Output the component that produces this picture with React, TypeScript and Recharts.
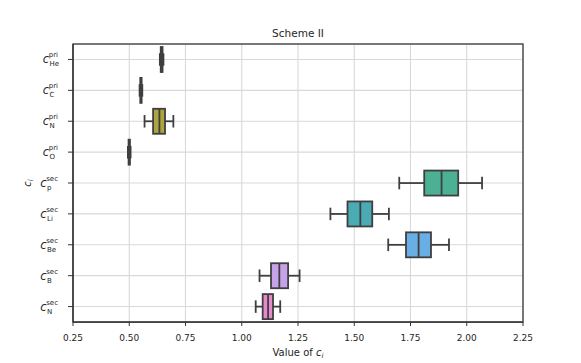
import { ComposedChart, Bar, XAxis, YAxis, CartesianGrid, Cell } from "recharts";

const ELEMENTS = ["He", "C", "N", "O", "p", "Li", "Be", "B", "N"];
const TIERS = ["pri", "pri", "pri", "pri", "sec", "sec", "sec", "sec", "sec"];

const WHISKER_LO = [0.636, 0.546, 0.568, 0.494, 1.7, 1.394, 1.651, 1.079, 1.062];
const Q1 = [0.64, 0.549, 0.606, 0.497, 1.811, 1.47, 1.73, 1.13, 1.093];
const MEDIAN = [0.644, 0.552, 0.634, 0.5, 1.888, 1.527, 1.786, 1.167, 1.117];
const Q3 = [0.648, 0.555, 0.659, 0.503, 1.962, 1.58, 1.841, 1.206, 1.139];
const WHISKER_HI = [0.652, 0.558, 0.696, 0.506, 2.068, 1.654, 1.921, 1.257, 1.171];

const X_TICKS = [0.25, 0.5, 0.75, 1.0, 1.25, 1.5, 1.75, 2.0, 2.25];

const BOX_COLORS = [
  "#e2818f",
  "#cf9350",
  "#aba43f",
  "#6aab4a",
  "#4cb194",
  "#4aabb5",
  "#6aaee6",
  "#c6a3e8",
  "#e68acd",
];

const LINE = "#3f3f3f";
const TEXT = "#262626";
const FONT = "'DejaVu Sans', sans-serif";

const data = ELEMENTS.map((el, i) => ({
  key: `${el}^${TIERS[i]}`,
  el,
  tier: TIERS[i],
  lo: WHISKER_LO[i],
  q1: Q1[i],
  med: MEDIAN[i],
  q3: Q3[i],
  hi: WHISKER_HI[i],
  range: [WHISKER_LO[i], WHISKER_HI[i]],
}));

const BoxShape = (props: any) => {
  const { x, y, width, height, payload, fill } = props;
  const span = payload.hi - payload.lo;
  // linear scale, so interpolate inside the whisker range the axis gave us
  const px = (v: number) => x + ((v - payload.lo) / span) * width;
  const cy = y + height / 2;
  const cap = height / 4;
  const sw = 1.8;
  return (
    <g>
      <line x1={px(payload.lo)} x2={px(payload.q1)} y1={cy} y2={cy} stroke={LINE} strokeWidth={sw} />
      <line x1={px(payload.q3)} x2={px(payload.hi)} y1={cy} y2={cy} stroke={LINE} strokeWidth={sw} />
      <line x1={px(payload.lo)} x2={px(payload.lo)} y1={cy - cap} y2={cy + cap} stroke={LINE} strokeWidth={sw} />
      <line x1={px(payload.hi)} x2={px(payload.hi)} y1={cy - cap} y2={cy + cap} stroke={LINE} strokeWidth={sw} />
      <rect
        x={px(payload.q1)}
        y={y}
        width={px(payload.q3) - px(payload.q1)}
        height={height}
        fill={fill}
        stroke={LINE}
        strokeWidth={sw}
      />
      <line x1={px(payload.med)} x2={px(payload.med)} y1={y} y2={y + height} stroke={LINE} strokeWidth={sw} />
    </g>
  );
};

const YTick = (props: any) => {
  const { y, payload } = props;
  const [el, tier] = String(payload.value).split("^");
  const right = 58;
  const supW = tier === "pri" ? 8.5 : 11;
  return (
    <g fontFamily={FONT}>
      <text x={right - supW - 0.5} y={y + 4} fontSize={11.5} fontStyle="italic" textAnchor="end" fill={TEXT}>
        c
      </text>
      <text x={right} y={y - 2} fontSize={7} textAnchor="end" fill={TEXT}>
        {tier}
      </text>
      <text x={right - supW} y={y + 7} fontSize={7} textAnchor="start" fill={TEXT}>
        {el}
      </text>
    </g>
  );
};

const App = () => {
  return (
    <div style={{ position: "absolute", left: 0, top: 0, width: 581, height: 363, background: "#fff" }}>
      <ComposedChart
        width={581}
        height={363}
        data={data}
        layout="vertical"
        margin={{ top: 44, right: 58, bottom: 0, left: 0 }}
        barCategoryGap={0}
      >
        <CartesianGrid stroke="#d9d9d9" strokeWidth={1.1} />
        <XAxis
          type="number"
          domain={[0.25, 2.25]}
          ticks={X_TICKS}
          allowDataOverflow
          tickFormatter={(v: number) => v.toFixed(2)}
          tick={{ fontSize: 9, fill: TEXT, fontFamily: FONT }}
          tickSize={4}
          tickMargin={9}
          axisLine={{ stroke: "#333", strokeWidth: 1.25 }}
          tickLine={{ stroke: "#333" }}
          height={41}
        />
        <YAxis
          type="category"
          dataKey="key"
          width={73}
          tick={<YTick />}
          tickSize={5}
          axisLine={{ stroke: "#333", strokeWidth: 1.25 }}
          tickLine={{ stroke: "#333" }}
          interval={0}
        />
        <Bar dataKey="range" barSize={25} shape={<BoxShape />} isAnimationActive={false}>
          {data.map((_, i) => (
            <Cell key={`box-${i}`} fill={BOX_COLORS[i % BOX_COLORS.length]} />
          ))}
        </Bar>
      </ComposedChart>
      <svg
        width={581}
        height={363}
        style={{ position: "absolute", left: 0, top: 0, pointerEvents: "none" }}
        fontFamily={FONT}
      >
        <rect x={73} y={44} width={450} height={278} fill="none" stroke="#333" strokeWidth={1.25} />
        <text x={298} y={37} fontSize={10.5} textAnchor="middle" fill={TEXT}>
          Scheme II
        </text>
        <text x={298} y={356} fontSize={10} textAnchor="middle" fill={TEXT}>
          Value of <tspan fontStyle="italic">c</tspan>
          <tspan fontSize={7} fontStyle="italic" dy={2}>i</tspan>
        </text>
        <g transform="translate(31,183) rotate(-90)">
          <text x={0} y={0} fontSize={10} textAnchor="middle" fill={TEXT}>
            <tspan fontStyle="italic">c</tspan>
            <tspan fontSize={7} fontStyle="italic" dy={2}>i</tspan>
          </text>
        </g>
      </svg>
    </div>
  );
};

export default App;
